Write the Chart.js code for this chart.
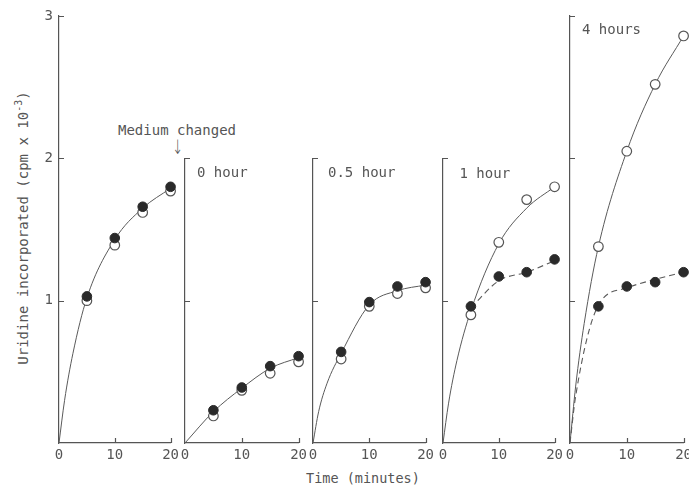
<!DOCTYPE html>
<html><head><meta charset="utf-8">
<script src="https://cdn.jsdelivr.net/npm/chart.js@4.4.1/dist/chart.umd.min.js"></script>
<style>
html,body{margin:0;padding:0;background:#fff;}
#wrap{position:relative;width:689px;height:486px;overflow:hidden;font-family:"DejaVu Sans Mono",monospace;color:#555;}
canvas{position:absolute;top:0;}
.t{position:absolute;white-space:nowrap;font-size:14px;line-height:14px;}
</style></head><body>
<div id="wrap">
  <div class="t" id="ytitle" style="left:21px;top:228px;transform:translate(-50%,-50%) rotate(-90deg);">Uridine incorporated (cpm x 10<sup style="font-size:10px;vertical-align:6px;">-3</sup>)</div>
  <div class="t" style="left:118px;top:123px;">Medium changed</div>
  <div class="t" style="left:171px;top:138px;font-family:'DejaVu Sans',sans-serif;font-size:16px;line-height:16px;font-weight:300;transform:scale(0.8,1.25);transform-origin:center top;">↓</div>
  <div class="t" style="left:306px;top:471px;font-size:13.5px;">Time (minutes)</div>
</div>
<script>
// ---------- data ----------
const minutes = [5, 10, 15, 20];
const xTickValues = [0, 10, 20];
const panelLabels = ['', '0 hour', '0.5 hour', '1 hour', '4 hours'];

const ctrlOpen   = [1.00, 1.39, 1.62, 1.77];
const ctrlFilled = [1.03, 1.44, 1.66, 1.80];
const h0Open     = [0.19, 0.37, 0.49, 0.57];
const h0Filled   = [0.23, 0.39, 0.54, 0.61];
const h05Open    = [0.59, 0.96, 1.05, 1.09];
const h05Filled  = [0.64, 0.99, 1.10, 1.13];
const h1Open     = [0.90, 1.41, 1.71, 1.80];
const h1Filled   = [0.96, 1.17, 1.20, 1.29];
const h4Open     = [1.38, 2.05, 2.52, 2.86];
const h4Filled   = [0.96, 1.10, 1.13, 1.20];

// fitted curves drawn in the figure
const ctrlCurveX = [0, 1, 2.5, 5, 10, 15, 20];
const ctrlCurveY = [0, 0.30, 0.63, 1.02, 1.43, 1.65, 1.79];
const h0CurveX   = [0, 5, 10, 15, 20];
const h0CurveY   = [0, 0.22, 0.385, 0.525, 0.60];
const h05CurveX  = [0, 1, 2.5, 5, 10, 15, 20];
const h05CurveY  = [0, 0.22, 0.42, 0.63, 0.97, 1.07, 1.11];
const h1CurveX   = [0, 1, 2.5, 5, 10, 15, 20];
const h1CurveY   = [0, 0.28, 0.58, 0.93, 1.40, 1.65, 1.80];
const h1DashX    = [5, 10, 15, 20];
const h1DashY    = [0.95, 1.14, 1.20, 1.28];
const h4CurveX   = [0, 1, 2.5, 5, 10, 15, 20];
const h4CurveY   = [0, 0.40, 0.84, 1.38, 2.05, 2.52, 2.86];
const h4DashX    = [0, 1, 4.9, 10, 15, 20];
const h4DashY    = [0, 0.33, 0.96, 1.09, 1.15, 1.20];

// ---------- layout / style ----------
const INK = '#555';
const Y0 = 443, PX_PER_UNIT = 142.33, XAXIS_H = 43, R = 12;
const panels = [
  {x0:58.5, x20:170.5, ymax:3, L:24, yLabels:true,  open:ctrlOpen, filled:ctrlFilled, cx:ctrlCurveX, cy:ctrlCurveY},
  {x0:185,  x20:298.5, ymax:2, L:12, yLabels:false, open:h0Open,   filled:h0Filled,   cx:h0CurveX,   cy:h0CurveY},
  {x0:313,  x20:426,   ymax:2, L:12, yLabels:false, open:h05Open,  filled:h05Filled,  cx:h05CurveX,  cy:h05CurveY},
  {x0:442.5,x20:554,   ymax:2, L:12, yLabels:false, open:h1Open,   filled:h1Filled,   cx:h1CurveX,   cy:h1CurveY, dx:h1DashX, dy:h1DashY},
  {x0:570,  x20:684,   ymax:3, L:12, yLabels:false, open:h4Open,   filled:h4Filled,   cx:h4CurveX,   cy:h4CurveY, dx:h4DashX, dy:h4DashY},
];
const labelPos = [null, [12, 172], [15, 172], [17, 173], [12, 29]];

const inTicks = {
  id:'inTicks',
  afterDraw(chart){
    const {ctx, chartArea:a, scales:{x, y}} = chart;
    ctx.save(); ctx.strokeStyle = INK; ctx.lineWidth = 1.2; ctx.beginPath();
    y.ticks.forEach(t => { if (t.value === 0) return; const py = Math.round(y.getPixelForValue(t.value)) + 0.5; ctx.moveTo(a.left, py); ctx.lineTo(a.left + 5, py); });
    x.ticks.forEach(t => { if (t.value === 0) return; const px = Math.round(x.getPixelForValue(t.value)) + 0.5; ctx.moveTo(px, a.bottom); ctx.lineTo(px, a.bottom - 5); });
    ctx.stroke(); ctx.restore();
  }
};

const wrap = document.getElementById('wrap');
const pts = (xs, ys) => xs.map((x, i) => ({x, y: ys[i]}));
const font = {family:'"DejaVu Sans Mono", monospace', size:14};

panels.forEach((p, i) => {
  const cv = document.createElement('canvas');
  const w = Math.round(p.x20 - p.x0 + p.L + R);
  cv.width = w; cv.height = 486;
  cv.style.left = (p.x0 - p.L) + 'px';
  cv.style.width = w + 'px'; cv.style.height = '486px';
  wrap.appendChild(cv);

  const datasets = [
    {data: pts(minutes, p.filled), pointRadius:4.8, pointBackgroundColor:'#2a2a2a', pointBorderColor:'#2a2a2a', pointBorderWidth:1, showLine:false, clip:false},
    {data: pts(minutes, p.open), pointRadius:4.8, pointBackgroundColor:'#fff', pointBorderColor:INK, pointBorderWidth:1.2, showLine:false, clip:false},
    {data: pts(p.cx, p.cy), showLine:true, pointRadius:0, borderColor:'#5a5a5a', borderWidth:1, cubicInterpolationMode:'monotone', clip:false},
  ];
  if (p.dx) datasets.push({data: pts(p.dx, p.dy), showLine:true, pointRadius:0, borderColor:'#5a5a5a', borderWidth:1.1, borderDash:[6,4], cubicInterpolationMode:'monotone', clip:false});

  new Chart(cv, {
    type:'scatter',
    data:{datasets},
    options:{
      responsive:false, animation:false, events:[],
      layout:{padding:{top: Y0 - p.ymax * PX_PER_UNIT, right:R, left:0, bottom:0}},
      plugins:{legend:{display:false}, tooltip:{enabled:false}},
      scales:{
        x:{type:'linear', min:0, max:20,
           afterBuildTicks: s => { s.ticks = xTickValues.map(v => ({value:v})); },
           afterFit: s => { s.height = XAXIS_H; },
           grid:{display:true, drawOnChartArea:false, drawTicks:false},
           border:{display:true, color:INK, width:1.2},
           ticks:{color:INK, font, padding:4, maxRotation:0, autoSkip:false}},
        y:{type:'linear', min:0, max:p.ymax,
           ticks:{display:p.yLabels, stepSize:1, color:INK, font, padding:6, callback: v => v === 0 ? '' : v},
           afterFit: s => { s.width = p.L; },
           grid:{display:true, drawOnChartArea:false, drawTicks:false},
           border:{display:true, color:INK, width:1.2}}
      }
    },
    plugins:[inTicks]
  });

  if (panelLabels[i]) {
    const d = document.createElement('div');
    d.className = 't';
    d.textContent = panelLabels[i];
    d.style.left = (p.x0 + labelPos[i][0]) + 'px';
    d.style.top = (labelPos[i][1] - 7) + 'px';
    wrap.appendChild(d);
  }
});
</script>
</body></html>
